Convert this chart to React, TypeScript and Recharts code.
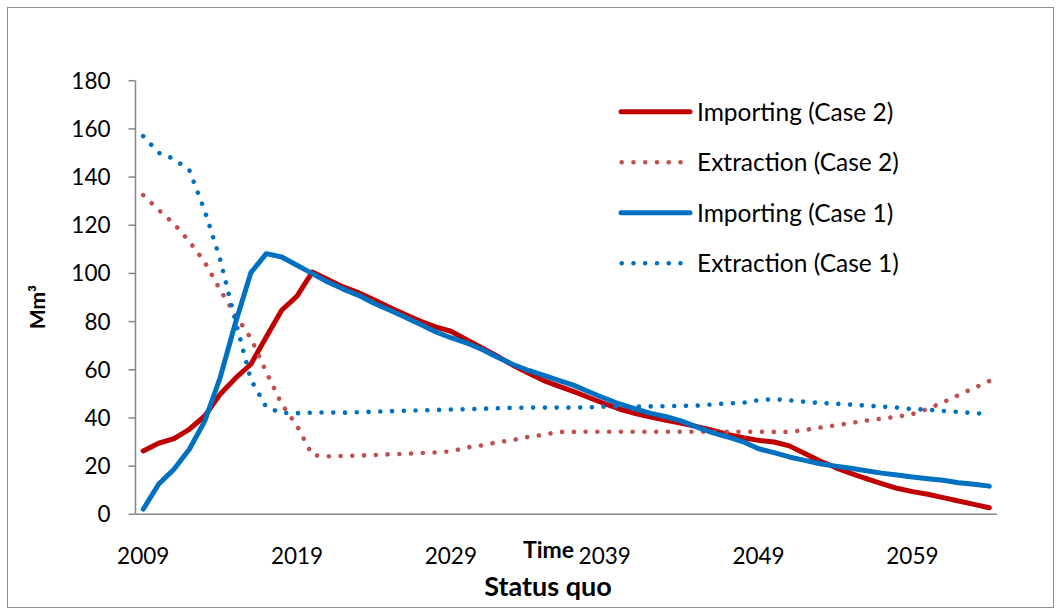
import React from 'react';
import { LineChart, Line, XAxis, YAxis, Legend } from 'recharts';

const FONT = 'Lato, "Open Sans", "DejaVu Sans", sans-serif';

const years = [
  2009, 2010, 2011, 2012, 2013, 2014, 2015, 2016, 2017, 2018,
  2019, 2020, 2021, 2022, 2023, 2024, 2025, 2026, 2027, 2028,
  2029, 2030, 2031, 2032, 2033, 2034, 2035, 2036, 2037, 2038,
  2039, 2040, 2041, 2042, 2043, 2044, 2045, 2046, 2047, 2048,
  2049, 2050, 2051, 2052, 2053, 2054, 2055, 2056, 2057, 2058,
  2059, 2060, 2061, 2062, 2063, 2064,
];

const importingCase2 = [
  26.3, 29.5, 31.4, 35.3, 40.8, 49.8, 56.5, 62.3, 73.6, 84.7,
  90.6, 100.6, 97.5, 94.4, 92.0, 89.1, 86.0, 83.0, 80.2, 77.8,
  76.0, 72.6, 69.2, 65.7, 62.0, 58.8, 55.6, 53.2, 50.9, 48.4,
  45.9, 43.6, 41.8, 40.4, 39.0, 37.8, 36.4, 34.9, 33.2, 31.8,
  30.7, 30.0, 28.4, 25.2, 22.1, 19.4, 17.0, 14.8, 12.7, 10.8,
  9.4, 8.3, 6.9, 5.5, 4.1, 2.7,
];

const extractionCase2 = [
  132.5, 126.4, 120.6, 113.3, 104.7, 93.2, 82.7, 73.1, 59.1, 45.8,
  36.7, 24.5, 24.1, 24.2, 24.4, 24.6, 24.9, 25.1, 25.4, 25.7,
  26.1, 27.7, 28.6, 29.9, 30.8, 32.1, 33.0, 34.2, 34.2, 34.3,
  34.3, 34.3, 34.3, 34.3, 34.3, 34.3, 34.3, 34.3, 34.3, 34.3,
  34.3, 34.2, 34.2, 35.0, 36.0, 36.9, 37.9, 38.9, 39.7, 40.5,
  41.6, 43.8, 46.5, 49.5, 52.4, 55.3,
];

const importingCase1 = [
  2.1, 12.5, 18.7, 27.0, 38.7, 56.7, 79.5, 100.3, 108.2, 106.8,
  103.4, 99.9, 96.4, 93.5, 90.9, 87.6, 84.8, 81.9, 78.9, 75.8,
  73.3, 71.2, 68.5, 65.3, 62.3, 59.8, 57.8, 55.6, 53.5, 50.8,
  48.2, 45.7, 43.8, 41.9, 40.5, 38.7, 36.2, 33.9, 32.1, 30.1,
  27.2, 25.6, 23.8, 22.4, 21.0, 20.0, 19.1, 18.1, 17.1, 16.3,
  15.5, 14.8, 14.1, 13.1, 12.5, 11.7,
];

const extractionCase1 = [
  157.0, 150.1, 147.5, 142.8, 126.0, 105.9, 80.2, 55.9, 44.5, 42.1,
  42.0, 42.2, 42.3, 42.2, 42.4, 42.6, 42.8, 43.0, 43.1, 43.3,
  43.5, 43.6, 43.8, 44.0, 44.2, 44.3, 44.3, 44.3, 44.3, 44.4,
  44.7, 44.7, 44.7, 44.8, 44.9, 45.0, 45.1, 45.6, 46.0, 46.3,
  47.4, 47.8, 47.3, 46.7, 46.2, 45.9, 45.5, 45.1, 44.7, 44.3,
  43.7, 43.4, 42.9, 42.5, 42.0, 41.6,
];

const xTicks = [2009, 2019, 2029, 2039, 2049, 2059];
const yTicks = [0, 20, 40, 60, 80, 100, 120, 140, 160, 180];

const seriesNames = [
  'Importing (Case 2)',
  'Extraction (Case 2)',
  'Importing (Case 1)',
  'Extraction (Case 1)',
];

const series = [
  { key: 'imp2', name: seriesNames[0], color: '#C00000', dotted: false, values: importingCase2 },
  { key: 'ext2', name: seriesNames[1], color: '#C0504D', dotted: true, values: extractionCase2 },
  { key: 'imp1', name: seriesNames[2], color: '#0070C0', dotted: false, values: importingCase1 },
  { key: 'ext1', name: seriesNames[3], color: '#0070C0', dotted: true, values: extractionCase1 },
];

const data = years.map((year, i) => {
  const row: Record<string, number> = { year };
  series.forEach((s) => {
    row[s.key] = s.values[i];
  });
  return row;
});

const DOT_DASH = '0.01 11.75';

const renderLegend = () => (
  <svg width={1061} height={610} style={{ position: 'absolute', left: 0, top: 0 }}>
    {series.map((s, i) => {
      const cy = 111.7 + i * 50.5;
      return (
        <g key={s.key}>
          {s.dotted ? (
            <line x1={621.7} x2={680.7} y1={cy} y2={cy} stroke={s.color} strokeWidth={4.6}
              strokeDasharray={DOT_DASH} strokeLinecap="round" />
          ) : (
            <line x1={621} x2={690} y1={cy} y2={cy} stroke={s.color} strokeWidth={5}
              strokeLinecap="round" />
          )}
          <text x={697} y={cy + 8.8} fontSize={24.5} fontFamily={FONT} fill="#000">{s.name}</text>
        </g>
      );
    })}
  </svg>
);

export default function App() {
  return (
    <div style={{ position: 'absolute', left: 0, top: 0, width: 1061, height: 610, background: '#fff', fontFamily: FONT }}>
      <div style={{ position: 'absolute', left: 7, top: 7, width: 1047, height: 601, border: '1px solid #8c8c8c', boxSizing: 'border-box' }} />
      <div style={{ position: 'absolute', left: 0, top: 0 }}>
        <LineChart width={1061} height={610} data={data}
          margin={{ top: 80.7, right: 64, bottom: 55.7, left: 75.5 }}>
          <XAxis dataKey="year" type="number" domain={[2008.5, 2064.5]} ticks={xTicks} interval={0}
            tickLine={false} tickSize={0} tickMargin={34} height={40}
            axisLine={{ stroke: '#868686', strokeWidth: 1.5 }}
            tick={{ fontSize: 22.5, fill: '#000', fontFamily: FONT }} />
          <YAxis domain={[0, 180]} ticks={yTicks} interval={0} width={60}
            tickSize={7} tickMargin={18}
            axisLine={{ stroke: '#868686', strokeWidth: 1.5 }}
            tickLine={{ stroke: '#868686', strokeWidth: 1.5 }}
            tick={{ fontSize: 22.5, fill: '#000', fontFamily: FONT }} />
          <Legend content={renderLegend} layout="horizontal" verticalAlign="middle" align="center"
            wrapperStyle={{ position: 'absolute', left: 0, top: 0, width: 1061, height: 610, pointerEvents: 'none' }} />
          {series.map((s) => (
            <Line key={s.key} type="linear" dataKey={s.key} name={s.name} stroke={s.color}
              strokeWidth={s.dotted ? 4.6 : 5}
              strokeDasharray={s.dotted ? DOT_DASH : undefined}
              strokeLinecap="round" strokeLinejoin="round"
              dot={false} activeDot={false} isAnimationActive={false} />
          ))}
        </LineChart>
      </div>
      <svg width={1061} height={610} style={{ position: 'absolute', left: 0, top: 0, pointerEvents: 'none' }}>
        <text x={523} y={558} fontSize={23} fontWeight="bold" fontFamily={FONT} fill="#000">Time</text>
        <text x={548} y={596} fontSize={27} fontWeight="bold" fontFamily={FONT} fill="#000" textAnchor="middle">Status quo</text>
        <text x={45} y={307} fontSize={21} fontWeight="bold" fontFamily={FONT} fill="#000" textAnchor="middle"
          transform="rotate(-90 45 307)">Mm³</text>
      </svg>
    </div>
  );
}
